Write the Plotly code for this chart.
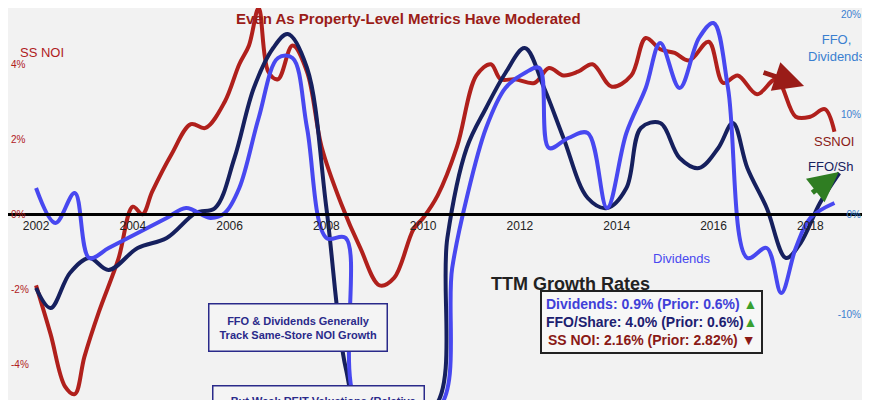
import plotly.graph_objects as go

# SS NOI, % (left axis)
noi_x = [2002.0, 2002.3, 2002.6, 2002.8, 2003.0, 2003.3, 2003.7, 2004.0, 2004.2, 2004.4, 2004.8, 2005.2,
         2005.5, 2005.9, 2006.2, 2006.4, 2006.6, 2006.8, 2007.0, 2007.3, 2007.6, 2007.9, 2008.3, 2008.7,
         2009.1, 2009.4, 2009.8, 2010.0, 2010.3, 2010.7, 2011.1, 2011.4, 2011.6, 2011.9, 2012.3, 2012.6,
         2012.9, 2013.2, 2013.5, 2013.9, 2014.3, 2014.6, 2014.9, 2015.2, 2015.5, 2015.9, 2016.2, 2016.5,
         2016.9, 2017.3, 2017.7, 2018.0, 2018.3, 2018.5]
noi_y = [-1.9, -3.2, -4.6, -4.8, -3.8, -2.6, -1.2, 0.2, 0.0, 0.6, 1.6, 2.4, 2.3, 3.0, 4.0, 4.5, 5.5, 3.8,
         3.6, 4.5, 3.8, 1.8, 0.3, -0.9, -1.9, -1.7, -0.4, -0.1, 0.5, 1.8, 3.7, 4.0, 3.6, 3.6, 3.5, 3.9,
         3.7, 3.8, 4.0, 3.4, 3.7, 4.7, 4.4, 4.3, 4.1, 4.6, 3.5, 3.7, 3.2, 3.6, 2.6, 2.6, 2.8, 2.2]

# FFO/Share, % (right axis)
ffo_x = [2002.0, 2002.3, 2002.7, 2003.1, 2003.5, 2004.1, 2004.7, 2005.3, 2005.7, 2006.1, 2006.5, 2006.9,
         2007.2, 2007.6, 2008.0, 2008.4, 2008.7, 2010.2, 2010.5, 2010.9, 2011.3, 2011.7, 2012.1, 2012.5,
         2012.9, 2013.4, 2013.8, 2014.2, 2014.5, 2014.9, 2015.3, 2015.7, 2016.1, 2016.4, 2016.7, 2017.1,
         2017.5, 2017.8, 2018.2, 2018.6]
ffo_y = [-7.4, -9.4, -5.9, -4.4, -5.6, -3.4, -2.4, 0.1, 0.6, 5.6, 12.6, 16.6, 18.0, 14.6, 0.6, -15.4,
         -19.5, -19.5, -2.4, 6.6, 10.6, 14.1, 16.6, 12.6, 7.6, 1.6, 0.6, 2.6, 8.6, 9.1, 5.6, 4.6, 6.6,
         9.1, 4.6, 0.6, -4.4, -2.9, 1.1, 4.1]

# Dividends, % (right axis)
div_x = [2002.0, 2002.4, 2002.8, 2003.1, 2003.5, 2003.9, 2004.3, 2004.7, 2005.1, 2005.6, 2005.9, 2006.2,
         2006.6, 2007.0, 2007.3, 2007.6, 2008.0, 2008.4, 2008.7, 2010.3, 2010.6, 2010.9, 2011.3, 2011.7,
         2012.1, 2012.4, 2012.6, 2013.0, 2013.4, 2013.8, 2014.2, 2014.6, 2014.9, 2015.3, 2015.7, 2016.0,
         2016.3, 2016.7, 2017.1, 2017.4, 2017.7, 2018.0, 2018.5]
div_y = [2.6, -0.9, 2.1, -4.4, -3.4, -2.4, -1.4, -0.4, 0.6, -0.4, 0.1, 2.6, 9.6, 15.6, 15.6, 8.6,
         -2.4, -2.4, -19.5, -19.5, -5.4, 1.6, 8.6, 12.6, 14.1, 14.6, 6.6, 7.6, 8.1, 0.6, 8.1, 12.6,
         17.1, 12.6, 17.6, 19.1, 12.6, -4.4, -3.4, -7.9, -3.4, -0.4, 1.1]

fig = go.Figure()
fig.add_trace(go.Scatter(x=noi_x, y=noi_y, mode='lines', line=dict(color='#b0201c', width=4, shape='spline'),
                         yaxis='y'))
fig.add_trace(go.Scatter(x=ffo_x, y=ffo_y, mode='lines', line=dict(color='#16205e', width=4, shape='spline'),
                         yaxis='y2'))
fig.add_trace(go.Scatter(x=div_x, y=div_y, mode='lines', line=dict(color='#4848f0', width=4, shape='spline'),
                         yaxis='y2'))

ann = [
    dict(x=0.46, y=1.0, text='<b>Even As Property-Level Metrics Have Moderated</b>', font=dict(color='#9a1c18', size=15),
         yanchor='top'),
    dict(x=0.012, y=0.865, text='SS NOI', font=dict(color='#b0201c', size=13), xanchor='left', yanchor='bottom'),
    dict(x=0.988, y=0.945, text='FFO,<br>Dividends', font=dict(color='#3a7fd0', size=13), xanchor='right',
         yanchor='top', align='center'),
    dict(x=0.975, y=0.69, text='SSNOI', font=dict(color='#8a1a16', size=13), xanchor='right'),
    dict(x=0.975, y=0.605, text='FFO/Sh', font=dict(color='#16205e', size=13), xanchor='right'),
    dict(x=0.81, y=0.375, text='Dividends', font=dict(color='#4848f0', size=13)),
    dict(x=0.74, y=0.28, text='<b>TTM Growth Rates</b>', font=dict(color='#222', size=18)),
    dict(x=0.74, y=0.135, xanchor='center', bordercolor='#222', borderwidth=2, bgcolor='#f7f7f7', borderpad=4,
         text='<b><span style="color:#4040d8">Dividends: 0.9% (Prior: 0.6%)</span> <span style="color:#3aa030">▲</span><br>'
              '<span style="color:#1c2070">FFO/Share: 4.0% (Prior: 0.6%)</span><span style="color:#3aa030">▲</span><br>'
              '<span style="color:#8a1a16">SS NOI: 2.16% (Prior: 2.82%)</span> <span style="color:#8a1a16">▼</span></b>',
         font=dict(size=14), align='center'),
    dict(x=0.23, y=0.14, text='<b>FFO & Dividends Generally<br>Track Same-Store NOI Growth</b>',
         font=dict(color='#2a2a8a', size=11), bordercolor='#2a2a8a', borderwidth=1.5, borderpad=10, bgcolor='#f4f4f4'),
    dict(x=0.235, y=-0.02, yanchor='bottom', text='<b>...But Weak REIT Valuations (Relative</b>',
         font=dict(color='#2a2a8a', size=11), bordercolor='#2a2a8a', borderwidth=1.5, borderpad=8, bgcolor='#f4f4f4'),
    dict(x=0.915, y=0.805, ax=-42, ay=-14, text='', showarrow=True, arrowhead=2, arrowsize=1.2, arrowwidth=5,
         arrowcolor='#9a1c18'),
    dict(x=0.955, y=0.59, ax=-28, ay=22, text='', showarrow=True, arrowhead=2, arrowsize=1.2, arrowwidth=5,
         arrowcolor='#2f7d22'),
]
for a in ann:
    a.setdefault('xref', 'paper')
    a.setdefault('yref', 'paper')
    a.setdefault('showarrow', False)

fig.update_layout(
    width=870, height=400, margin=dict(l=0, r=0, t=0, b=0),
    paper_bgcolor='#f2f2f2', plot_bgcolor='#f2f2f2', showlegend=False,
    font=dict(family='Liberation Sans, Arial'),
    xaxis=dict(range=[2001.42, 2019.4], tickvals=list(range(2002, 2019, 2)), showgrid=False, zeroline=False,
               anchor='free', position=0.485, showline=True, linecolor='black', linewidth=3,
               tickfont=dict(size=12, color='#222'), ticks=''),
    yaxis=dict(range=[-5.17, 5.5], tickvals=[4, 2, 0, -2, -4], ticktext=['4%', '2%', '0%', '-2%', '-4%'],
               ticklabelposition='inside', showgrid=False, zeroline=False, tickfont=dict(color='#b0201c', size=10)),
    yaxis2=dict(range=[-19.4, 20.6], overlaying='y', side='right', tickvals=[20, 10, 0, -10],
                ticktext=['20%', '10%', '0%', '-10%'], ticklabelposition='inside', ticklabelstandoff=14,
                showgrid=False, zeroline=False, tickfont=dict(color='#3a7fd0', size=10)),
    annotations=ann,
)
fig.write_html("out.html")
